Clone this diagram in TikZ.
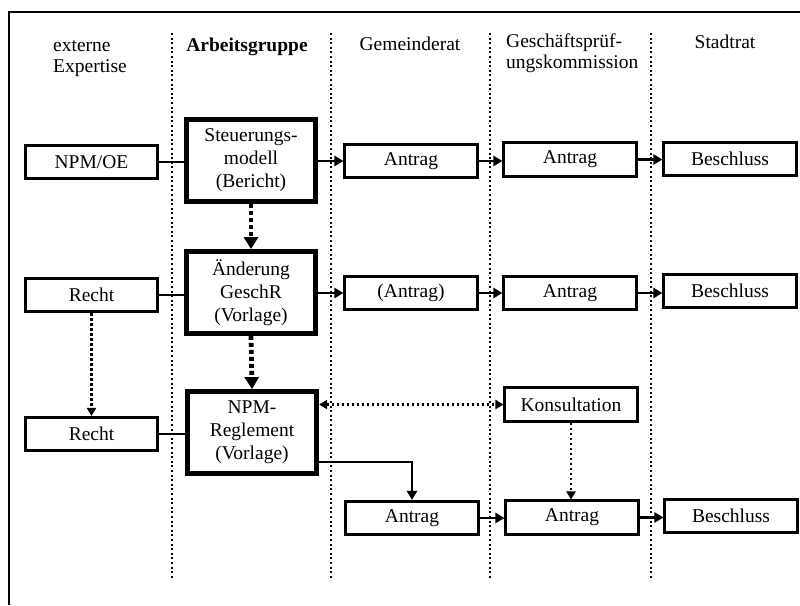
\documentclass[tikz,border=0pt]{standalone}
\usepackage{fontspec}
\setmainfont{Liberation Serif}
\usetikzlibrary{arrows.meta,calc}
\begin{document}
\begin{tikzpicture}[x=1pt,y=-1pt,
  txt/.style={font=\fontsize{19.5}{21}\selectfont, inner sep=0pt},
  thinbox/.style={draw, line width=2.6pt, minimum width=132.5pt, minimum height=33.5pt, inner sep=0pt, font=\fontsize{19.5}{23}\selectfont},
  thickbox/.style={draw, line width=4.8pt, minimum width=129.5pt, minimum height=82pt, inner sep=0pt, align=center, font=\fontsize{19.5}{23}\selectfont},
  sep/.style={line width=2.3pt, dash pattern=on 2pt off 2.6pt},
  plainline/.style={line width=1.8pt},
  flow/.style={line width=2.8pt, -{Triangle[length=9pt,width=10pt]}},
  bigdot/.style={line width=4.8pt, dash pattern=on 4pt off 3pt, -{Triangle[length=12pt,width=14pt]}},
  smalldot/.style={line width=2.6pt, dash pattern=on 2.5pt off 2.5pt, -{Triangle[length=8pt,width=9pt]}},
  smalldotboth/.style={line width=2.6pt, dash pattern=on 2.5pt off 2.5pt, {Triangle[length=8pt,width=9pt]}-{Triangle[length=8pt,width=9pt]}}
]
\useasboundingbox (0,0) rectangle (800,605);
\fill[white] (0,0) rectangle (800,605);
% frame
\draw[line width=1.4pt] (9,605) -- (9,12) -- (800,12);
% separators
\foreach \xx in {172,331,490,651} \draw[sep] (\xx,33) -- (\xx,580);
% headers
\node[txt, anchor=base west, align=left] (h1) at (53,72) {externe\\Expertise};
\node[txt, anchor=base, font=\fontsize{19.5}{21}\selectfont\bfseries] (h2) at (247,51) {Arbeitsgruppe};
\node[txt, anchor=base] (h3) at (410,50) {Gemeinderat};
\node[txt, anchor=base west, align=left] (h4) at (506,68) {Geschäftsprüf-\\ungskommission};
\node[txt, anchor=base] (h5) at (725,48) {Stadtrat};
% row 1
\node[thinbox] (npm) at (91.5,162) {NPM/OE};
\node[thickbox] (steu) at (251,160.5) {Steuerungs-\\modell\\(Bericht)};
\node[thinbox] (antr1) at (411,161) {Antrag};
\node[thinbox] (gpk1) at (570,159.5) {Antrag};
\node[thinbox] (besch1) at (730,159) {Beschluss};
% row 2
\node[thinbox] (recht1) at (91.5,295) {Recht};
\node[thickbox] (aend) at (251,292.5) {Änderung\\GeschR\\(Vorlage)};
\node[thinbox] (antr2) at (411,293) {(Antrag)};
\node[thinbox] (gpk2) at (570,293) {Antrag};
\node[thinbox] (besch2) at (730,291) {Beschluss};
% row 3
\node[thinbox] (recht2) at (91.5,434) {Recht};
\node[thickbox] (npmr) at (252,432.5) {NPM-\\Reglement\\(Vorlage)};
\node[thinbox] (kons) at (571,404.5) {Konsultation};
% row 4
\node[thinbox] (antr3) at (412,518) {Antrag};
\node[thinbox] (gpk3) at (572,517.5) {Antrag};
\node[thinbox] (besch3) at (731,516) {Beschluss};
% connectors
\draw[plainline] (npm.east) -- (npm.east -| steu.west);
\draw[flow] (steu.east |- antr1.west) -- (antr1.west);
\draw[flow] (antr1.east) -- (antr1.east -| gpk1.west);
\draw[flow] (gpk1.east) -- (gpk1.east -| besch1.west);
\draw[bigdot] (steu.south) -- (aend.north);
\draw[plainline] (recht1.east) -- (recht1.east -| aend.west);
\draw[flow] (aend.east |- antr2.west) -- (antr2.west);
\draw[flow] (antr2.east) -- (antr2.east -| gpk2.west);
\draw[flow] (gpk2.east) -- (gpk2.east -| besch2.west);
\draw[smalldot] (recht1.south) -- (recht2.north);
\draw[bigdot] (aend.south) -- (npmr.north);
\draw[plainline] (recht2.east) -- (recht2.east -| npmr.west);
\draw[smalldotboth] (kons.west -| npmr.east) -- (kons.west);
\draw[smalldot] (kons.south) -- (kons.south |- gpk3.north);
\coordinate (npmout) at ([yshift=-29.5pt]npmr.east);
\draw[flow, line width=2.4pt] (npmout) -| (antr3.north);
\draw[flow] (antr3.east) -- (antr3.east -| gpk3.west);
\draw[flow] (gpk3.east) -- (gpk3.east -| besch3.west);
\end{tikzpicture}
\end{document}
